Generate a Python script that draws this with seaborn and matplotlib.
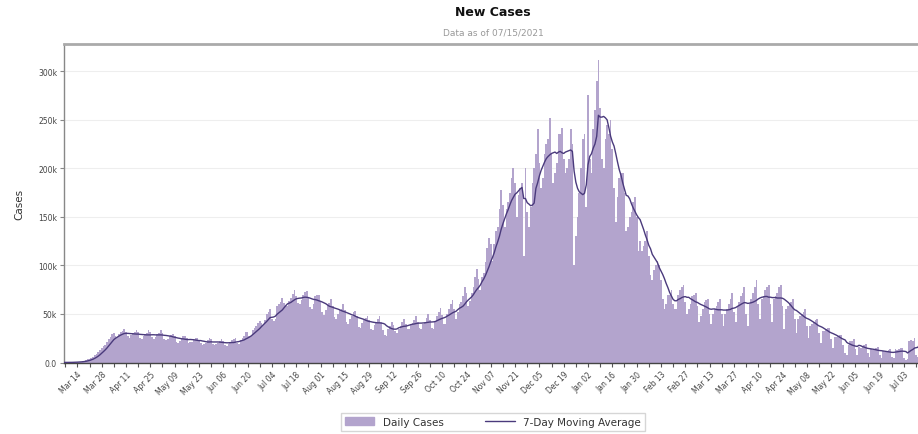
import numpy as np
import pandas as pd
import matplotlib
matplotlib.use("Agg")
import matplotlib.pyplot as plt
from matplotlib.patches import Patch
from matplotlib.lines import Line2D
import seaborn as sns

# ---------------- data ----------------
start_date = "2020-03-01"   # first day of the daily series (a Sunday)
# daily new cases, thousands; one line per week (Sun..Sat)
daily_cases_k = [
    0.01, 0.02, 0.03, 0.04, 0.06, 0.08, 0.1,
    0.12, 0.15, 0.2, 0.3, 0.4, 0.6, 0.8,
    0.8, 1.0, 1.3, 1.8, 2.5, 3.2, 4.0,
    5, 6, 7.5, 9, 11, 13, 15,
    17, 18, 21, 24, 26, 29, 30,
    27, 26, 29, 31, 32, 34, 31,
    27, 25, 28, 30, 31, 33, 31,
    25, 24, 27, 29, 30, 33, 31,
    26, 24, 26, 29, 30, 33, 30,
    24, 23, 24, 27, 28, 29, 27,
    21, 20, 22, 24, 27, 27, 25,
    20, 21, 21, 23, 25, 25, 23,
    20, 18, 19, 20, 23, 25, 24,
    19, 18, 19, 20, 22, 24, 22,
    18, 17, 19, 21, 23, 24, 25,
    20, 19, 23, 25, 27, 31, 31,
    27, 27, 33, 36, 38, 41, 43,
    41, 39, 44, 50, 52, 55, 45,
    43, 45, 58, 60, 62, 66, 61,
    58, 58, 63, 66, 71, 75, 68,
    61, 60, 64, 70, 73, 74, 66,
    57, 55, 60, 68, 70, 69, 62,
    52, 49, 54, 59, 61, 65, 58,
    47, 45, 50, 54, 55, 60, 54,
    42, 40, 45, 48, 52, 53, 48,
    37, 36, 41, 44, 46, 48, 44,
    35, 33, 39, 42, 45, 48, 42,
    33, 28, 27, 34, 38, 42, 39,
    32, 30, 35, 38, 42, 45, 40,
    35, 34, 39, 41, 44, 48, 42,
    36, 34, 40, 42, 46, 50, 44,
    36, 35, 42, 48, 52, 56, 49,
    40, 40, 50, 55, 60, 64, 55,
    45, 52, 60, 62, 68, 78, 72,
    58, 63, 72, 78, 88, 96, 86,
    75, 88, 92, 104, 118, 128, 122,
    105, 122, 135, 140, 158, 178, 162,
    140, 158, 165, 175, 190, 200, 185,
    150, 172, 180, 185, 110, 200, 155,
    140, 160, 185, 200, 215, 240, 205,
    180, 190, 215, 225, 230, 252, 215,
    185, 195, 205, 235, 235, 242, 210,
    195, 200, 210, 240, 225, 100, 130,
    150, 175, 200, 230, 235, 160, 275,
    210, 195, 240, 260, 290, 312, 262,
    210, 200, 230, 245, 235, 250, 220,
    180, 145, 170, 190, 195, 195, 175,
    135, 140, 150, 155, 165, 170, 150,
    115, 125, 115, 120, 125, 135, 110,
    90, 85, 95, 100, 105, 100, 85,
    65, 55, 60, 70, 70, 75, 60,
    55, 55, 70, 75, 78, 80, 62,
    50, 55, 60, 68, 70, 72, 58,
    42, 48, 55, 62, 64, 65, 50,
    40, 50, 55, 58, 62, 65, 50,
    38, 50, 55, 60, 65, 72, 52,
    42, 58, 62, 68, 72, 78, 50,
    38, 60, 65, 72, 78, 85, 60,
    45, 65, 68, 75, 78, 80, 60,
    42, 65, 68, 72, 78, 80, 58,
    35, 55, 58, 60, 62, 65, 45,
    30, 45, 48, 50, 52, 55, 38,
    25, 38, 40, 42, 44, 45, 30,
    20, 32, 32, 34, 36, 36, 24,
    15, 26, 26, 27, 28, 28, 18,
    10, 8, 18, 22, 22, 24, 14,
    8, 16, 15, 16, 18, 19, 10,
    6, 14, 13, 14, 15, 16, 8,
    5, 12, 11, 12, 13, 14, 6,
    5, 14, 13, 14, 15, 15, 5,
    3, 4, 22, 23, 22, 25, 8,
    6, 30, 26, 25,
]

first_tick_date = "2020-03-14"
tick_labels = ["Mar 14", "Mar 28", "Apr 11", "Apr 25", "May 09", "May 23",
               "Jun 06", "Jun 20", "Jul 04", "Jul 18", "Aug 01", "Aug 15",
               "Aug 29", "Sep 12", "Sep 26", "Oct 10", "Oct 24", "Nov 07",
               "Nov 21", "Dec 05", "Dec 19", "Jan 02", "Jan 16", "Jan 30",
               "Feb 13", "Feb 27", "Mar 13", "Mar 27", "Apr 10", "Apr 24",
               "May 08", "May 22", "Jun 05", "Jun 19", "Jul 03"]
y_ticks = [0, 50000, 100000, 150000, 200000, 250000, 300000]
y_tick_labels = ["0.0", "50k", "100k", "150k", "200k", "250k", "300k"]

title = "New Cases"
subtitle = "Data as of 07/15/2021"
y_label = "Cases"
series_labels = ["Daily Cases", "7-Day Moving Average"]

bar_color = "#b3a4cd"
line_color = "#4a3a7c"

# ---------------- build frame ----------------
dates = pd.date_range(start_date, periods=len(daily_cases_k), freq="D")
df = pd.DataFrame({"date": dates, "cases": np.array(daily_cases_k) * 1000.0})
df["day"] = (df["date"] - pd.Timestamp(start_date)).dt.days
df["avg7"] = df["cases"].rolling(7, min_periods=1).mean()

sns.set_theme(style="white")
plt.rcParams["font.family"] = ["DejaVu Sans"]

W, H = 918, 435
fig = plt.figure(figsize=(W / 100, H / 100), dpi=100)
ax_left, ax_right, ax_top, ax_bot = 64, 918, 45, 363.5
ax = fig.add_axes([ax_left / W, (H - ax_bot) / H, (ax_right - ax_left) / W,
                   (ax_bot - ax_top) / H])

sns.histplot(data=df, x="day", weights="cases", discrete=True, color=bar_color,
             alpha=1.0, linewidth=0, edgecolor=bar_color, ax=ax, zorder=2)
sns.lineplot(data=df, x="day", y="avg7", color=line_color, linewidth=1.0,
             ax=ax, zorder=3)

# x axis
t0 = (pd.Timestamp(first_tick_date) - pd.Timestamp(start_date)).days
major = [t0 + 14 * i for i in range(len(tick_labels))]
minor = [t0 - 7] + [t0 + 7 + 14 * i for i in range(len(tick_labels))]
ax.set_xticks(major)
ax.set_xticklabels(tick_labels, rotation=45, ha="right", rotation_mode="anchor",
                   fontsize=5.5, color="#444444")
ax.set_xticks(minor, minor=True)
ax.set_xlim(t0 - 7.7, t0 + 484)
ax.tick_params(axis="x", which="both", bottom=True, length=3, width=0.8,
               color="#555555", pad=2)

# y axis
ax.set_ylim(0, 328000)
ax.set_yticks(y_ticks)
ax.set_yticklabels(y_tick_labels, fontsize=5.5, color="#444444")
ax.tick_params(axis="y", left=True, length=3, width=0.8, color="#888888", pad=2)
ax.yaxis.grid(True, color="#eeeeee", linewidth=0.8, zorder=0)
ax.set_axisbelow(True)
ax.set_xlabel("")
ax.set_ylabel(y_label, fontsize=7.5, color="#333333", labelpad=10)

ax.spines["right"].set_visible(False)
ax.spines["top"].set_color("#aaaaaa")
ax.spines["top"].set_linewidth(2.0)
ax.spines["left"].set_color("#888888")
ax.spines["left"].set_linewidth(1.0)
ax.spines["bottom"].set_color("#444444")
ax.spines["bottom"].set_linewidth(1.0)

fig.text(0.537, 1 - 12 / H, title, ha="center", va="center", fontsize=9,
         fontweight="bold", color="#111111")
fig.text(0.537, 1 - 33 / H, subtitle, ha="center", va="center", fontsize=6.5,
         color="#999999")

handles = [Patch(facecolor=bar_color, edgecolor=bar_color),
           Line2D([0], [0], color=line_color, linewidth=1.0)]
fig.legend(handles, series_labels, loc="center", bbox_to_anchor=(0.537, 1 - 423 / H),
           ncol=2, fontsize=7.5, frameon=True, fancybox=False, edgecolor="#cccccc",
           handlelength=2.8, handleheight=0.8, columnspacing=4.0, borderpad=0.4,
           labelcolor="#333333")

fig.savefig("out.png", dpi=100)
